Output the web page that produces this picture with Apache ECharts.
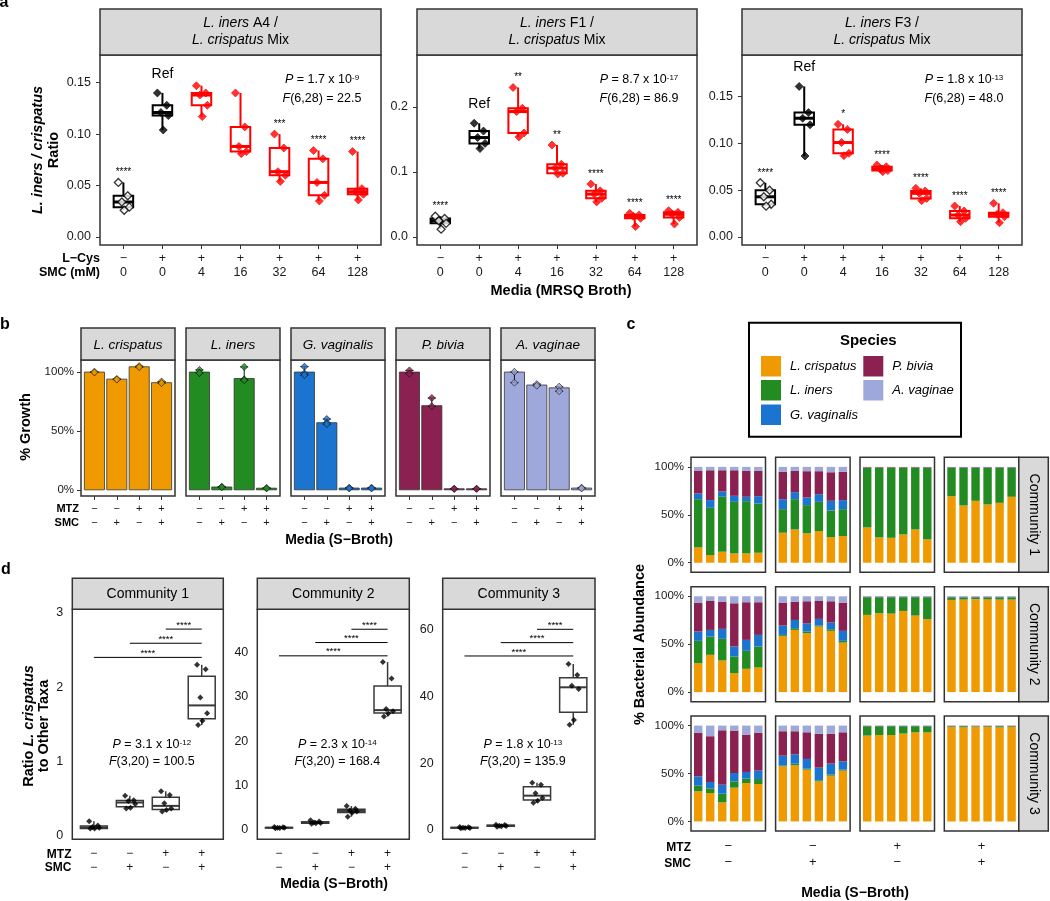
<!DOCTYPE html>
<html><head><meta charset="utf-8">
<script src="https://cdn.jsdelivr.net/npm/echarts@6/dist/echarts.min.js"></script>
<style>html,body{margin:0;padding:0;background:#fff}#c{width:1050px;height:901px}</style>
</head><body><div id="c"></div>
<script>
// ================= DATA =================
// Panel a
const aLCys = ['−','+','+','+','+','+','+'];
const aSMC = ['0','0','4','16','32','64','128'];
const aStripStrain = ['A4','F1','F3'];
const a1Points = [[0.053,0.040,0.034,0.029,0.026],[0.140,0.128,0.121,0.118,0.104],[0.147,0.140,0.138,0.128,0.117],[0.140,0.107,0.088,0.083,0.081],[0.100,0.0865,0.0635,0.060,0.054],[0.084,0.076,0.053,0.0405,0.035],[0.083,0.047,0.044,0.0415,0.036]];
const a2Points = [[0.032,0.0285,0.025,0.021,0.012],[0.175,0.163,0.153,0.144,0.136],[0.230,0.198,0.193,0.160,0.154],[0.1415,0.112,0.106,0.098,0.097],[0.0815,0.071,0.066,0.0595,0.054],[0.0364,0.034,0.032,0.0287,0.016],[0.0405,0.038,0.035,0.030,0.020]];
const a3Points = [[0.058,0.050,0.043,0.035,0.033],[0.161,0.133,0.127,0.120,0.0866],[0.1205,0.115,0.101,0.0895,0.087],[0.077,0.0752,0.0727,0.0710,0.0699],[0.052,0.0492,0.0467,0.0413,0.0388],[0.0331,0.0278,0.0235,0.020,0.0164],[0.036,0.026,0.0242,0.0217,0.0153]];
const a1Stars = ['****','','','','***','****','****'];
const a2Stars = ['****','','**','**','****','****','****'];
const a3Stars = ['****','','*','****','****','****','****'];
const a1Ticks = [0,0.05,0.10,0.15];
const a2Ticks = [0,0.1,0.2];
const a3Ticks = [0,0.05,0.10,0.15];
const aPval = ['1.7','8.7','1.8'];
const aPexp = ['-9','-17','-13'];
const aFval = ['22.5','86.9','48.0'];

// Panel b
const bSpecies = ['L. crispatus','L. iners','G. vaginalis','P. bivia','A. vaginae'];
const bMTZ = ['−','−','+','+'];
const bSMC = ['−','+','−','+'];
const bMeans = [[100,94,104.5,91],[100,2.4,94.5,1.4],[100,57,1.5,1.5],[100,71.5,0.9,0.9],[100,89,86.6,1.5]];
const bReps = [
  [[100.3,99.7],[94.2,93.6],[105.0,104.2],[92.0,90.6]],
  [[101.8,99.4,99.2],[2.6,2.2],[104.4,93.8,93.0],[1.6,1.2]],
  [[104.6,98.8,97.4],[60.1,57.0,55.8],[1.8,1.2],[1.8,1.2]],
  [[101.4,98.6],[78.0,71.0],[1.0,0.8],[1.0,0.8]],
  [[100.2,91.0],[89.8,88.4],[87.6,83.8],[1.8,1.2]]
];
const bTicks = [0,50,100];

// Panel c (percent per replicate bar; 4 conditions x 6 replicates)
const cMTZ = ['−','−','+','+'];
const cSMC = ['−','+','−','+'];
const cCommunities = ['Community 1','Community 2','Community 3'];
const c1Crispatus = [16,8,11.5,9.7,9.7,10.4, 31.3,34.7,30.6,33,26.7,27.8, 36.8,26.4,26,29.5,34.7,24.3, 69.4,59.7,64.6,60.8,62.5,68.8];
const c1Iners = [50.3,49.3,57.3,53.8,54.5,51.4, 24.6,31.6,29.5,30.5,27.8,28.1, 62.5,72.9,73.3,69.8,64.6,75, 29.6,39.3,34.4,38.2,36.5,30.2];
const c1Gvag = [5.9,8,5.5,6.3,4.6,7.6, 10.4,7.3,8,8,10.1,9.4, 0,0,0,0,0,0, 0.4,0.4,0.4,0.4,0.4,0.4];
const c1Pbiv = [24,31.2,22.2,26.7,27,26.4, 28.5,22.2,27.4,24,29.8,29.5, 0.5,0.5,0.5,0.5,0.5,0.5, 0.4,0.4,0.4,0.4,0.4,0.4];
const c1Avag = [3.8,3.5,3.5,3.5,4.2,4.2, 5.2,4.2,4.5,4.5,5.6,5.2, 0.2,0.2,0.2,0.2,0.2,0.2, 0.2,0.2,0.2,0.2,0.2,0.2];
const c2Crispatus = [30.2,38.9,33,19.8,24.3,25.7, 58.7,64.9,61.5,68.4,63.9,51.7, 80.6,82.3,81.9,84.7,79.9,76, 96.2,96.5,97,96.8,96.5,96.5];
const c2Iners = [23.3,19.1,22.6,17.4,18.8,21.9, 1,1.8,1.7,1,1.7,1.8, 18.4,16.7,17.1,14.3,19.1,23, 2.6,2.3,1.8,2,2.3,2.3];
const c2Gvag = [9.7,6.9,10.4,10.4,11.4,12.1, 9.7,8.6,8.7,7,7,10.4, 0.2,0.2,0.2,0.2,0.2,0.2, 0.3,0.3,0.3,0.3,0.3,0.3];
const c2Pbiv = [30.2,30.2,28.4,45.1,39.3,34.1, 24,18.8,22.9,18.7,22.2,29.5, 0.5,0.5,0.5,0.5,0.5,0.5, 0.5,0.5,0.5,0.5,0.5,0.5];
const c2Avag = [6.6,4.9,5.6,7.3,6.2,6.2, 6.6,5.9,5.2,4.9,5.2,6.6, 0.3,0.3,0.3,0.3,0.3,0.3, 0.4,0.4,0.4,0.4,0.4,0.4];
const c3Crispatus = [31.4,29.6,19.9,35.2,40.1,39, 57.5,58.5,54,41.8,47.7,53, 89.5,90.2,90.2,91.6,93,93, 98.6,98.2,98.8,98.6,98.2,98.6];
const c3Iners = [5.9,4.9,9,6.6,4.5,5.3, 1,1.8,1,1.1,1.1,1, 9.8,9.1,9.1,7.7,6.3,6.3, 0.7,1.1,0.5,0.7,1.1,0.7];
const c3Gvag = [9.7,6.6,9.4,8.7,7,8.7, 10.1,9.7,10.2,13.2,11.5,8.7, 0.2,0.2,0.2,0.2,0.2,0.2, 0.2,0.2,0.2,0.2,0.2,0.2];
const c3Pbiv = [45.3,47.8,56.8,44.3,39,39.3, 25.5,24.1,27.8,35.2,31.3,30.3, 0.3,0.3,0.3,0.3,0.3,0.3, 0.3,0.3,0.3,0.3,0.3,0.3];
const c3Avag = [7.7,11.1,4.9,5.2,9.4,7.7, 5.9,5.9,7,8.7,8.4,7, 0.2,0.2,0.2,0.2,0.2,0.2, 0.2,0.2,0.2,0.2,0.2,0.2];
const cTicks = [0,50,100];

// Panel d
const dMTZ = ['−','−','+','+'];
const dSMC = ['−','+','−','+'];
const d1Points = [[0.20,0.14,0.12,0.11,0.10,0.10],[0.54,0.48,0.47,0.43,0.38,0.37],[0.60,0.55,0.44,0.37,0.35,0.33],[2.30,2.24,1.86,1.65,1.55,1.49]];
const d2Points = [[0.7,0.6,0.5,0.5,0.45,0.4],[2.2,1.9,1.7,1.6,1.5,1.4],[5.4,4.8,4.4,4.2,3.9,3.0],[37.9,34.2,27.3,26.8,26.3,25.6]];
const d3Points = [[0.9,0.8,0.7,0.6,0.6,0.5],[1.6,1.5,1.3,1.2,1.1,1.0],[14.2,13.6,11.0,9.6,8.8,8.2],[49.8,46.5,43.3,42.3,33.0,31.6]];
const d1Brackets = [2.40,2.59,2.78];
const d2Brackets = [39.3,42.3,45.3];
const d3Brackets = [52.2,56.2,60.2];
const d1Ticks = [0,1,2,3];
const d2Ticks = [0,10,20,30,40];
const d3Ticks = [0,20,40,60];
const dPval = ['3.1','2.3','1.8'];
const dPexp = ['-12','-14','-13'];
const dFval = ['100.5','168.4','135.9'];

// ================= STYLE / LAYOUT =================
const FF = '"Liberation Sans", Arial, Helvetica, sans-serif';
const SPC = ['#EE9A00','#228B22','#1B74D0','#8B2150','#9FA8DA'];
const JIT = [-0.13, 0.11, -0.04, 0.15, 0.02, -0.10];
const FRAME = '#333333', STRIP = '#D9D9D9', TXT = '#1a1a1a';
function fs(size, weight, style, extra){return Object.assign({fontSize:size,fontFamily:FF,fontWeight:weight||'normal',fontStyle:style||'normal'},extra||{});}

const grids=[], xAxes=[], yAxes=[], series=[], graphics=[];
function addGrid(r, xa, ya){
  grids.push({left:r[0],top:r[1],width:r[2],height:r[3],show:true,borderColor:FRAME,borderWidth:1.5,backgroundColor:'#fff',containLabel:false});
  const gi=grids.length-1;
  xAxes.push(Object.assign({gridIndex:gi,type:'value',position:'bottom',axisLine:{show:false,onZero:false},splitLine:{show:false}},xa));
  yAxes.push(Object.assign({gridIndex:gi,type:'value',position:'left',axisLine:{show:false,onZero:false},splitLine:{show:false}},ya));
  return gi;
}
function text(x,y,str,style,opt){
  opt=opt||{};
  const st=Object.assign({text:str,fill:'#000',align:opt.align||'center',verticalAlign:opt.va||'middle'},style);
  if(opt.rich) st.rich=opt.rich;
  if(opt.lh) st.lineHeight=opt.lh;
  graphics.push({type:'text',x:x,y:y,rotation:opt.rot||0,z:100,silent:true,style:st});
}
function rect(x,y,w,h,fill,stroke,lw){graphics.push({type:'rect',z:95,silent:true,shape:{x:x,y:y,width:w,height:h},style:{fill:fill,stroke:stroke,lineWidth:lw}});}
function q7(s,p){const h=(s.length-1)*p,lo=Math.floor(h),hi=Math.min(lo+1,s.length-1);return s[lo]+(h-lo)*(s[hi]-s[lo]);}
function boxStats(a){const s=a.slice().sort((x,y)=>x-y);return [s[0],q7(s,.25),q7(s,.5),q7(s,.75),s[s.length-1]];}
function boxSeries(gi,sets,opt){
  return {type:'custom',xAxisIndex:gi,yAxisIndex:gi,z:3,silent:true,clip:false,encode:{x:0,y:[1,2,3,4,5]},
    data:sets.map((p,g)=>[g].concat(boxStats(p))),
    renderItem:function(params,api){
      const x=api.value(0),g=Math.round(x),c=opt.color(g);
      const P=k=>api.coord([x,api.value(k)]);
      const lo=P(1),q1=P(2),md=P(3),q3=P(4),hi=P(5);
      const hw=api.size([opt.w,0])[0]/2;
      const ls={stroke:c,lineWidth:opt.lw};
      return {type:'group',children:[
        {type:'line',shape:{x1:lo[0],y1:lo[1],x2:q1[0],y2:q1[1]},style:ls},
        {type:'line',shape:{x1:q3[0],y1:q3[1],x2:hi[0],y2:hi[1]},style:ls},
        {type:'rect',shape:{x:lo[0]-hw,y:q3[1],width:2*hw,height:q1[1]-q3[1]},style:{fill:opt.fill,stroke:c,lineWidth:opt.lw}},
        {type:'line',shape:{x1:lo[0]-hw,y1:md[1],x2:lo[0]+hw,y2:md[1]},style:{stroke:c,lineWidth:opt.mw}}
      ]};
    }};
}
function twoRowLabels(cv,r1,r2,margin,size,lh){
  return {customValues:cv,formatter:v=>r1[Math.round(v)]+'\n'+r2[Math.round(v)],margin:margin,fontSize:size,lineHeight:lh,color:TXT,fontFamily:FF};
}

// ================= PANEL A =================
const aRects=[[100,55,281,190],[417,55,280,190],[742,55,280,190]];
const aRange=[[-0.0078,0.1769],[-0.0123,0.28],[-0.00855,0.1946]];
const aSets=[a1Points,a2Points,a3Points], aStarSets=[a1Stars,a2Stars,a3Stars], aTickSets=[a1Ticks,a2Ticks,a3Ticks], aDec=[2,1,2];
aRects.forEach((r,f)=>{
  const gi=addGrid(r,
    {min:-0.6,max:6.6,axisTick:{show:true,customValues:[0,1,2,3,4,5,6],length:4,lineStyle:{color:FRAME,width:1}},
     axisLabel:twoRowLabels([0,1,2,3,4,5,6],aLCys,aSMC,7,12.5,14)},
    {min:aRange[f][0],max:aRange[f][1],axisTick:{show:true,customValues:aTickSets[f],length:4,lineStyle:{color:FRAME,width:1}},
     axisLabel:{customValues:aTickSets[f],formatter:v=>Number(v).toFixed(aDec[f]),margin:9,fontSize:12.5,color:TXT,fontFamily:FF}});
  const pts=aSets[f], stars=aStarSets[f];
  series.push(boxSeries(gi,pts,{w:0.5,lw:2,mw:3,fill:'#fff',color:g=>g<2?'#000':'#FF0000'}));
  series.push({type:'scatter',xAxisIndex:gi,yAxisIndex:gi,z:5,silent:true,symbol:'diamond',symbolSize:8,
    data:pts.flatMap((p,g)=>p.map((v,i)=>({value:[g+JIT[i],v],itemStyle:g===0?{color:'#fff',borderColor:'#000',borderWidth:1.3}:{color:g<2?'#000':'#FF0000',borderColor:g<2?'#000':'#FF0000',borderWidth:0.8}})))});
  series.push({type:'custom',xAxisIndex:gi,yAxisIndex:gi,z:6,silent:true,clip:false,encode:{x:0,y:1},
    data:pts.map((p,g)=>[g,Math.max.apply(null,p),g]),
    renderItem:function(params,api){
      const g=api.value(2),c=api.coord([api.value(0),api.value(1)]),ch=[];
      if(stars[g]) ch.push({type:'text',x:c[0],y:c[1]-10,style:Object.assign({text:stars[g],fill:'#000',align:'center',verticalAlign:'middle'},fs(10))});
      if(g===1) ch.push({type:'text',x:c[0],y:c[1]-19,style:Object.assign({text:'Ref',fill:'#000',align:'center',verticalAlign:'middle'},fs(14))});
      return {type:'group',children:ch};
    }});
  rect(r[0],9,r[2],46,STRIP,FRAME,1.5);
  text(r[0]+r[2]/2,32,'{i|L. iners} '+aStripStrain[f]+' /\n{i|L. crispatus} Mix',fs(14),{rich:{i:fs(14,'normal','italic',{lineHeight:17})},lh:17});
  const cx=r[0]+222;
  text(cx,80,'{i|P} = '+aPval[f]+' x 10{s|'+aPexp[f]+'}',fs(12.5),{rich:{i:fs(12.5,'normal','italic'),s:fs(8,'normal','normal',{verticalAlign:'top'})}});
  text(cx,99,'{i|F}(6,28) = '+aFval[f],fs(12.5),{rich:{i:fs(12.5,'normal','italic')}});
});
text(100,259,'L−Cys',fs(12.5,'bold'),{align:'right'});
text(100,273,'SMC (mM)',fs(12.5,'bold'),{align:'right'});
text(561,291,'Media (MRSQ Broth)',fs(14.5,'bold'));
text(38,150,'L. iners / crispatus',fs(14.5,'bold','italic'),{rot:Math.PI/2});
text(54,150,'Ratio',fs(14.5,'bold'),{rot:Math.PI/2});

// ================= PANEL B =================
const bLefts=[81,186,291,396,501], bTop=360, bW=94, bH=136;
bSpecies.forEach((sp,k)=>{
  const gi=addGrid([bLefts[k],bTop,bW,bH],
    {min:-0.6,max:3.6,axisTick:{show:true,customValues:[0,1,2,3],length:4,lineStyle:{color:FRAME}},
     axisLabel:twoRowLabels([0,1,2,3],bMTZ,bSMC,6,11,14)},
    {min:-5.25,max:110.25,axisTick:{show:k===0,customValues:bTicks,length:4,lineStyle:{color:FRAME}},
     axisLabel:{show:k===0,customValues:bTicks,formatter:v=>v+'%',margin:7,fontSize:11.5,color:TXT,fontFamily:FF}});
  const col=SPC[k];
  series.push({type:'custom',xAxisIndex:gi,yAxisIndex:gi,z:3,silent:true,encode:{x:0,y:1},
    data:bMeans[k].map((v,i)=>[i,v]),
    renderItem:function(params,api){
      const x=api.value(0),a=api.coord([x-0.45,api.value(1)]),b=api.coord([x+0.45,0]);
      return {type:'rect',shape:{x:a[0],y:a[1],width:b[0]-a[0],height:b[1]-a[1]},style:{fill:col,stroke:'#333',lineWidth:0.8}};
    }});
  series.push({type:'custom',xAxisIndex:gi,yAxisIndex:gi,z:4,silent:true,clip:false,encode:{x:0,y:[1,2]},
    data:bReps[k].map((p,i)=>[i,Math.min.apply(null,p),Math.max.apply(null,p)]),
    renderItem:function(params,api){
      const x=api.value(0),lo=api.coord([x,api.value(1)]),hi=api.coord([x,api.value(2)]),hw=api.size([0.18,0])[0];
      const ls={stroke:'#111',lineWidth:1};
      return {type:'group',children:[
        {type:'line',shape:{x1:lo[0],y1:lo[1],x2:hi[0],y2:hi[1]},style:ls},
        {type:'line',shape:{x1:lo[0]-hw,y1:lo[1],x2:lo[0]+hw,y2:lo[1]},style:ls},
        {type:'line',shape:{x1:hi[0]-hw,y1:hi[1],x2:hi[0]+hw,y2:hi[1]},style:ls}]};
    }});
  series.push({type:'scatter',xAxisIndex:gi,yAxisIndex:gi,z:5,silent:true,symbol:'diamond',symbolSize:7,
    itemStyle:{color:col,borderColor:'#111',borderWidth:0.8},
    data:bReps[k].flatMap((p,i)=>p.map(v=>[i,v]))});
  rect(bLefts[k],328,bW,32,STRIP,FRAME,1.5);
  text(bLefts[k]+bW/2,345,sp,fs(13.5,'normal','italic'));
});
text(79,509,'MTZ',fs(11,'bold'),{align:'right'});
text(79,523,'SMC',fs(11,'bold'),{align:'right'});
text(339,540,'Media (S−Broth)',fs(14,'bold'));
text(26,427,'% Growth',fs(14.5,'bold'),{rot:Math.PI/2});

// ================= PANEL C =================
const cLefts=[691,775.6,860,944.3], cTops=[457.3,586.7,716], cW=74.5, cH=115;
const cSets=[[c1Crispatus,c1Iners,c1Gvag,c1Pbiv,c1Avag],[c2Crispatus,c2Iners,c2Gvag,c2Pbiv,c2Avag],[c3Crispatus,c3Iners,c3Gvag,c3Pbiv,c3Avag]];
cSets.forEach((sp,r)=>{
  for(let k=0;k<4;k++){
    const gi=addGrid([cLefts[k],cTops[r],cW,cH],
      {min:-0.6,max:5.6,axisTick:{show:false},
       axisLabel:{show:r===2,customValues:[2.5],formatter:()=>cMTZ[k]+'\n'+cSMC[k],margin:8,fontSize:13,lineHeight:15.6,color:TXT,fontFamily:FF}},
      {min:-10,max:110,axisTick:{show:k===0,customValues:cTicks,length:3,lineStyle:{color:FRAME}},
       axisLabel:{show:k===0,customValues:cTicks,formatter:v=>v+'%',margin:7,fontSize:11.5,color:TXT,fontFamily:FF}});
    const items=[];
    for(let j=0;j<6;j++){let base=0;const idx=k*6+j;sp.forEach((arr,s)=>{items.push([j,base,base+arr[idx],s]);base+=arr[idx];});}
    series.push({type:'custom',xAxisIndex:gi,yAxisIndex:gi,z:3,silent:true,encode:{x:0,y:[1,2]},data:items,
      renderItem:function(params,api){
        const x=api.value(0),a=api.coord([x-0.35,api.value(2)]),b=api.coord([x+0.35,api.value(1)]);
        return {type:'rect',shape:{x:a[0],y:a[1],width:b[0]-a[0],height:b[1]-a[1]},style:{fill:SPC[api.value(3)]}};
      }});
  }
  rect(1018.8,cTops[r],29.5,cH,STRIP,FRAME,1.5);
  text(1033.5,cTops[r]+cH/2,cCommunities[r],fs(14),{rot:-Math.PI/2});
});
text(691,847.7,'MTZ',fs(12,'bold'),{align:'right'});
text(691,863.3,'SMC',fs(12,'bold'),{align:'right'});
text(855,893,'Media (S−Broth)',fs(14,'bold'));
text(640,644.5,'% Bacterial Abundance',fs(14.5,'bold'),{rot:Math.PI/2});
// legend
rect(749,322.7,212,114,'#fff','#000',2);
text(868.3,340.7,'Species',fs(15,'bold'));
const legPos=[[761,356],[761,380],[761,404.5],[863.3,356],[863.3,380]];
bSpecies.forEach((sp,s)=>{
  rect(legPos[s][0],legPos[s][1],20,20.5,SPC[s],null,0);
  text(legPos[s][0]+29,legPos[s][1]+10.5,sp,fs(13,'normal','italic'),{align:'left'});
});

// ================= PANEL D =================
const dLefts=[72.3,257.3,442.7], dWs=[151,152,152.3], dTop=609.3, dH=230;
const dRange=[[-0.044,3.046],[-2.1,49.8],[-2.79,66.2]];
const dSets=[d1Points,d2Points,d3Points], dTickSets=[d1Ticks,d2Ticks,d3Ticks], dBr=[d1Brackets,d2Brackets,d3Brackets];
dSets.forEach((pts,f)=>{
  const gi=addGrid([dLefts[f],dTop,dWs[f],dH],
    {min:-0.6,max:3.6,axisTick:{show:false},axisLabel:twoRowLabels([0,1,2,3],dMTZ,dSMC,8,12,13.4)},
    {min:dRange[f][0],max:dRange[f][1],axisTick:{show:false},
     axisLabel:{customValues:dTickSets[f],margin:9,fontSize:12.5,color:TXT,fontFamily:FF}});
  series.push(boxSeries(gi,pts,{w:0.75,lw:1.5,mw:2,fill:'#fff',color:()=>'#3a3a3a'}));
  series.push({type:'scatter',xAxisIndex:gi,yAxisIndex:gi,z:5,silent:true,symbol:'diamond',symbolSize:6,
    itemStyle:{color:'#000'},data:pts.flatMap((p,g)=>p.map((v,i)=>[g+JIT[i],v]))});
  series.push({type:'custom',xAxisIndex:gi,yAxisIndex:gi,z:6,silent:true,clip:false,encode:{x:[0,2],y:1},
    data:dBr[f].map((y,i)=>[i,y,3]),
    renderItem:function(params,api){
      const a=api.coord([api.value(0),api.value(1)]),b=api.coord([api.value(2),api.value(1)]);
      return {type:'group',children:[
        {type:'line',shape:{x1:a[0],y1:a[1],x2:b[0],y2:b[1]},style:{stroke:'#000',lineWidth:1}},
        {type:'text',x:(a[0]+b[0])/2,y:a[1]-4,style:Object.assign({text:'****',fill:'#000',align:'center',verticalAlign:'middle'},fs(9.5))}]};
    }});
  rect(dLefts[f],578.3,dWs[f],31,STRIP,FRAME,1.5);
  text(dLefts[f]+dWs[f]/2,594,cCommunities[f],fs(14));
  const cx=dLefts[f]+dWs[f]/2+4;
  text(cx,745,'{i|P} = '+dPval[f]+' x 10{s|'+dPexp[f]+'}',fs(12.5),{rich:{i:fs(12.5,'normal','italic'),s:fs(8,'normal','normal',{verticalAlign:'top'})}});
  text(cx,762,'{i|F}(3,20) = '+dFval[f],fs(12.5),{rich:{i:fs(12.5,'normal','italic')}});
});
text(71.5,854.3,'MTZ',fs(12,'bold'),{align:'right'});
text(71.5,867.7,'SMC',fs(12,'bold'),{align:'right'});
text(334,884,'Media (S−Broth)',fs(14,'bold'));
text(28.5,726,'Ratio {bi|L. crispatus}',fs(14.5,'bold'),{rot:Math.PI/2,rich:{bi:fs(14.5,'bold','italic')}});
text(43.5,726,'to Other Taxa',fs(14.5,'bold'),{rot:Math.PI/2});

// panel letters
text(4,3,'a',fs(16,'bold'));
text(5,325,'b',fs(16,'bold'));
text(631,325,'c',fs(16,'bold'));
text(6,570,'d',fs(16,'bold'));

const chart=echarts.init(document.getElementById('c'),null,{renderer:'canvas',width:1050,height:901});
chart.setOption({backgroundColor:'#fff',animation:false,tooltip:{show:false},
  grid:grids,xAxis:xAxes,yAxis:yAxes,series:series,graphic:{elements:graphics}});
</script></body></html>
